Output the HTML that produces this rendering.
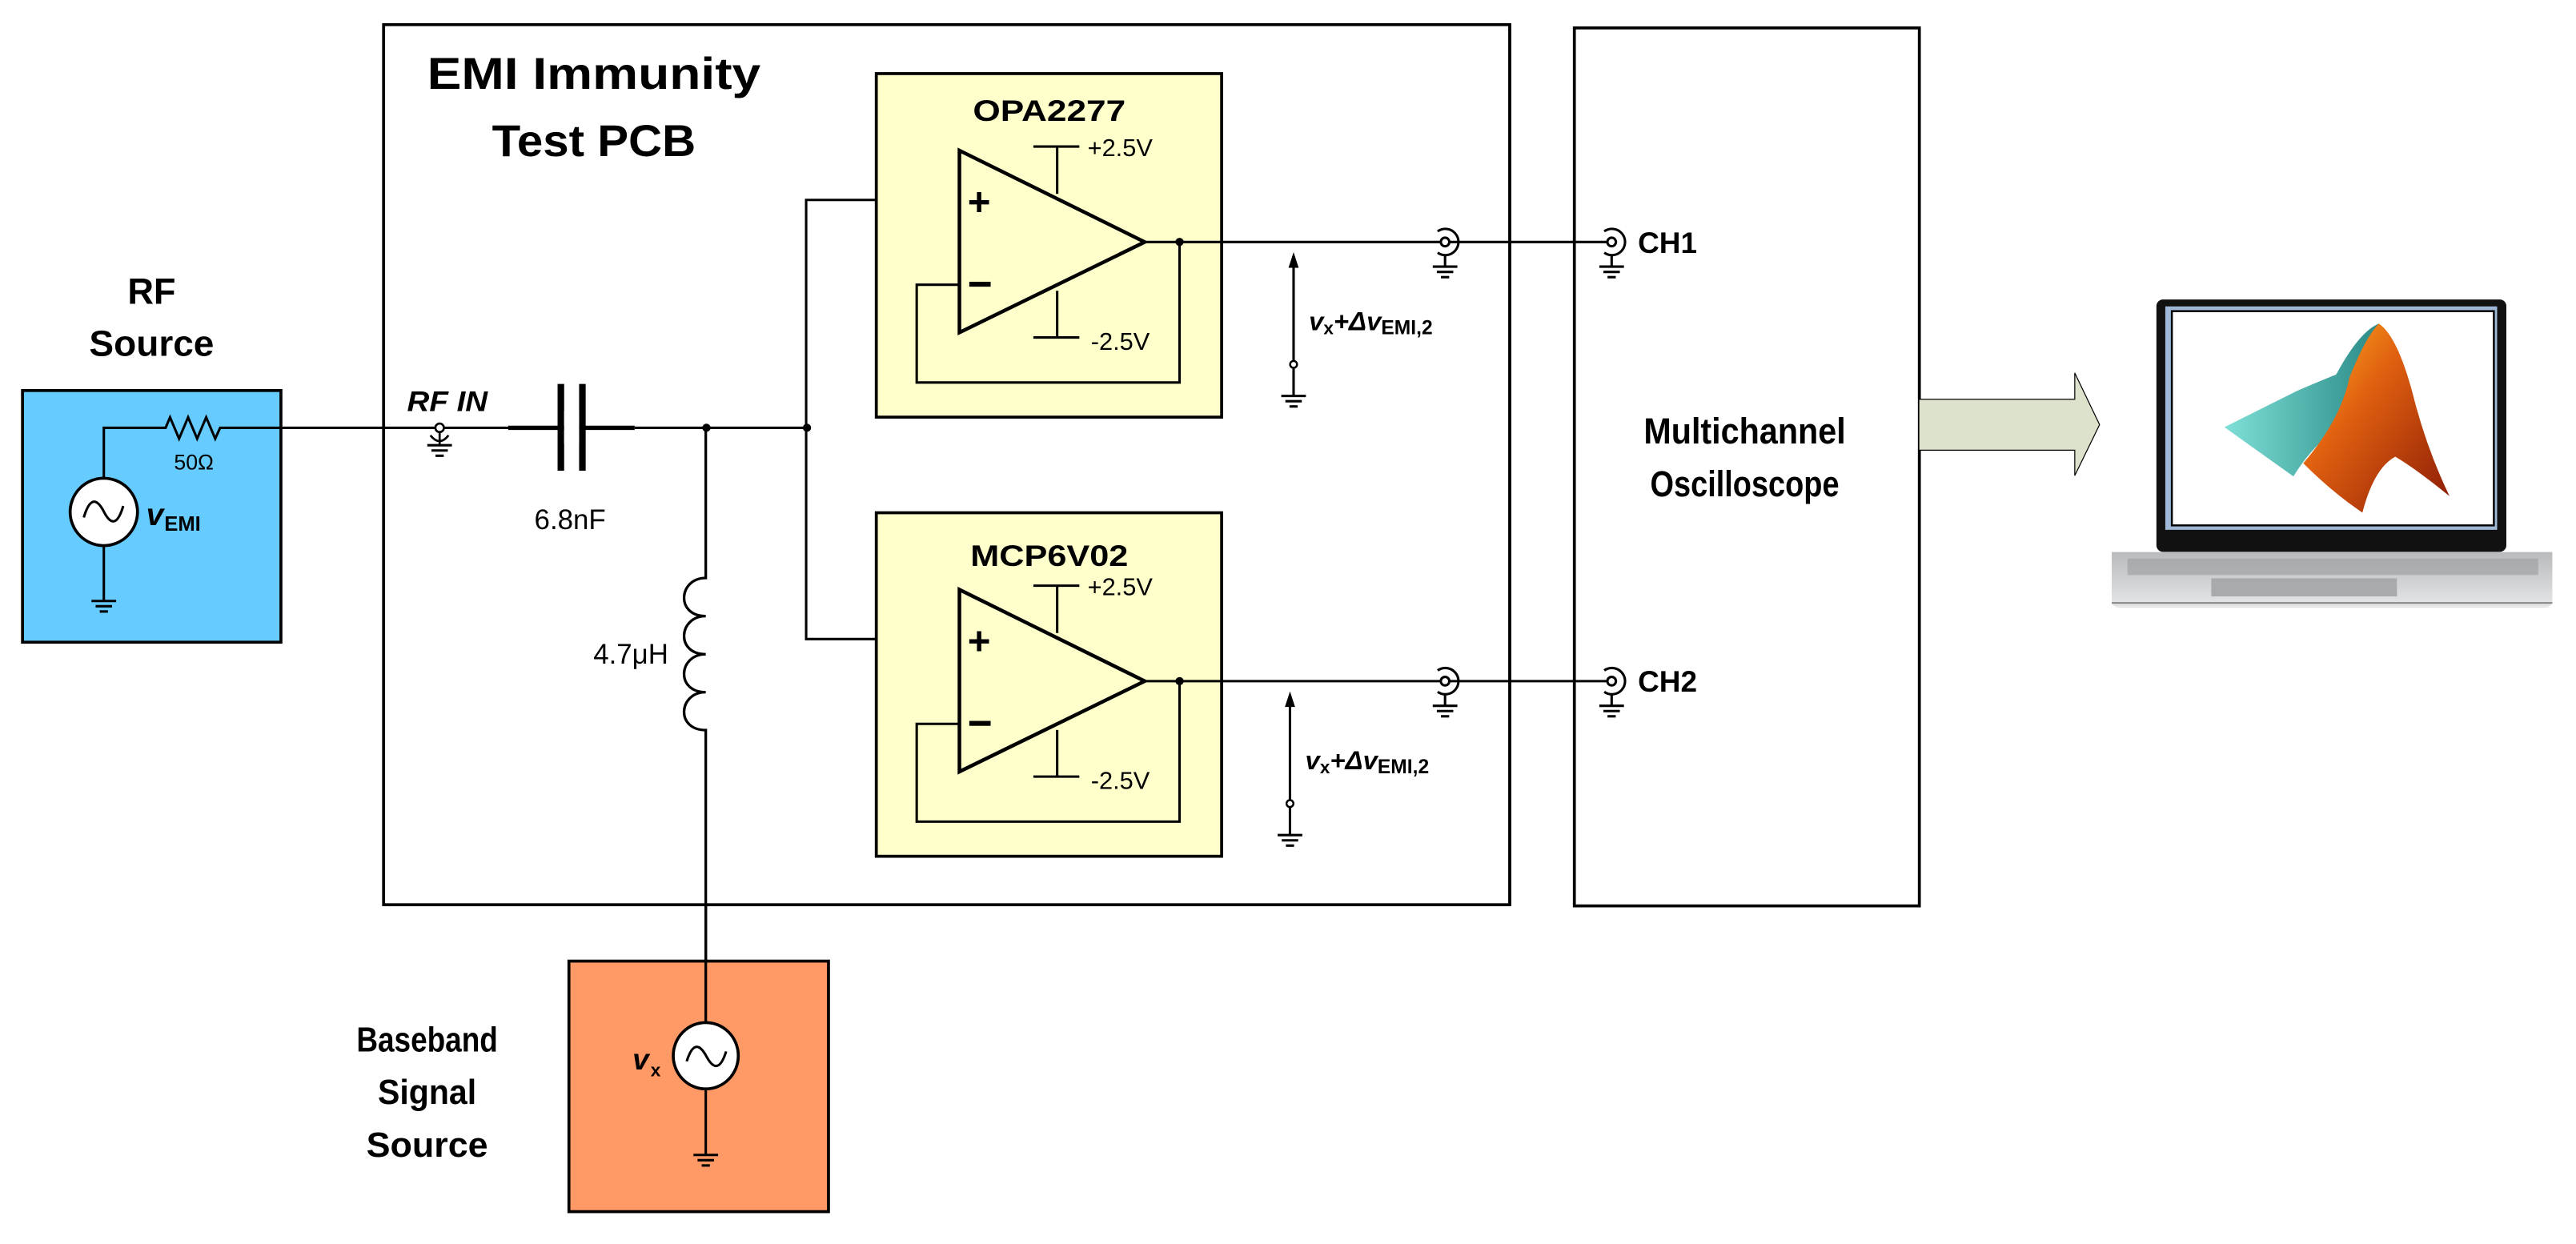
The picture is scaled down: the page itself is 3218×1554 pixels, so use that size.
<!DOCTYPE html>
<html><head><meta charset="utf-8"><style>
html,body{margin:0;padding:0;background:#fff;}
svg{display:block;}
text{font-family:"Liberation Sans",sans-serif;fill:#000;}
.b{font-weight:bold;}
</style></head><body>
<svg width="3218" height="1554" viewBox="0 0 1568 757.2" xmlns="http://www.w3.org/2000/svg">
<defs>
<g id="gnd"><line x1="-7.5" y1="0" x2="7.5" y2="0" stroke="#000" stroke-width="1.5"/><line x1="-5" y1="3.2" x2="5" y2="3.2" stroke="#000" stroke-width="1.5"/><line x1="-2.5" y1="6.4" x2="2.5" y2="6.4" stroke="#000" stroke-width="1.5"/></g>
<g id="coax" fill="none" stroke="#000" stroke-width="1.5"><circle cx="0" cy="0" r="2.6" fill="#fff"/><path d="M -4.5 -6.5 A 8 8 0 1 1 -4.5 6.5"/><line x1="0" y1="7.8" x2="0" y2="15"/><use href="#gnd" y="15"/></g>
<linearGradient id="mat" x1="0" y1="0" x2="1" y2="1"><stop offset="0" stop-color="#ffb020"/><stop offset="0.4" stop-color="#e06010"/><stop offset="1" stop-color="#8a1a05"/></linearGradient>
<linearGradient id="teal" x1="0" y1="0" x2="1" y2="0"><stop offset="0" stop-color="#7fe0d8"/><stop offset="1" stop-color="#2a8a86"/></linearGradient>
<linearGradient id="base" x1="0" y1="0" x2="0" y2="1"><stop offset="0" stop-color="#b8babc"/><stop offset="1" stop-color="#e6e7e8"/></linearGradient>
</defs>

<rect x="233.5" y="15" width="685.5" height="535.7" fill="#fff" stroke="#000" stroke-width="1.8"/>
<text class="b" x="361.5" y="54" font-size="27" text-anchor="middle" textLength="203" lengthAdjust="spacingAndGlyphs">EMI Immunity</text>
<text class="b" x="361.5" y="95" font-size="27" text-anchor="middle" textLength="124" lengthAdjust="spacingAndGlyphs">Test PCB</text>

<text class="b" x="92.3" y="185" font-size="22" text-anchor="middle">RF</text>
<text class="b" x="92.3" y="216.5" font-size="22" text-anchor="middle" textLength="76" lengthAdjust="spacingAndGlyphs">Source</text>
<rect x="13.7" y="237.7" width="157.3" height="153.2" fill="#66CCFF" stroke="#000" stroke-width="1.8"/>
<polyline points="63.2,291 63.2,260.4 100.8,260.4 103.5,254 109,267 114.5,254 120,267 125.5,254 131,267 134,260.4 267.6,260.4" fill="none" stroke="#000" stroke-width="1.5"/>
<ellipse cx="63.2" cy="311.6" rx="20.5" ry="20.5" fill="#fff" stroke="#000" stroke-width="1.8"/>
<path d="M 51 315 Q 56 298 63 311 Q 70 325 75 308" fill="none" stroke="#000" stroke-width="1.5"/>
<line x1="63.2" y1="332" x2="63.2" y2="365.8" stroke="#000" stroke-width="1.5"/>
<use href="#gnd" x="63.2" y="365.8"/>
<text x="118" y="285.7" font-size="13" text-anchor="middle">50Ω</text>
<text class="b" x="89" y="319.6" font-size="19" font-style="italic">v</text><text class="b" x="100" y="323" font-size="12.5">EMI</text>

<text class="b" x="247.8" y="250.3" font-size="17" font-style="italic" textLength="49" lengthAdjust="spacingAndGlyphs">RF IN</text>
<circle cx="267.6" cy="260.4" r="2.6" fill="#fff" stroke="#000" stroke-width="1.3"/>
<path d="M 262 265 Q 267.6 272 273 265" fill="none" stroke="#000" stroke-width="1.3"/>
<line x1="267.6" y1="263" x2="267.6" y2="271" stroke="#000" stroke-width="1.3"/>
<use href="#gnd" x="267.6" y="271"/>

<line x1="270.2" y1="260.4" x2="309.4" y2="260.4" stroke="#000" stroke-width="1.5"/>
<line x1="309.4" y1="260.4" x2="386.3" y2="260.4" stroke="#000" stroke-width="2.6"/>
<rect x="339.4" y="233.7" width="4" height="52.8" fill="#000"/>
<rect x="352.5" y="233.7" width="4" height="52.8" fill="#000"/>
<rect x="343.4" y="250" width="9.1" height="20" fill="#fff"/>
<text x="347" y="322" font-size="17" text-anchor="middle">6.8nF</text>
<line x1="386.3" y1="260.4" x2="491.2" y2="260.4" stroke="#000" stroke-width="1.5"/>
<circle cx="430" cy="260.4" r="2.5" fill="#000"/>
<circle cx="491.2" cy="260.4" r="2.5" fill="#000"/>

<path d="M 429.6 260.4 L 429.6 351.8 C 413 351.8 411 375 429.6 375 C 413 375 411 398.2 429.6 398.2 C 413 398.2 411 421.3 429.6 421.3 C 413 421.3 411 444.4 429.6 444.4 L 429.6 622.4" fill="none" stroke="#000" stroke-width="1.6"/>
<text x="384" y="404" font-size="17" text-anchor="middle">4.7μH</text>

<polyline points="584,121.7 490.7,121.7 490.7,389 584,389" fill="none" stroke="#000" stroke-width="1.5"/>

<g id="opa">
<rect x="533.4" y="44.8" width="210.2" height="209.1" fill="#FFFFCC" stroke="#000" stroke-width="1.8"/>
<polyline points="584,173.3 558,173.3 558,232.8 718,232.8 718,147.3" fill="none" stroke="#000" stroke-width="1.5"/>
<line x1="643.5" y1="89.2" x2="643.5" y2="118" stroke="#000" stroke-width="1.5"/>
<line x1="629" y1="89.2" x2="657" y2="89.2" stroke="#000" stroke-width="1.5"/>
<line x1="643.5" y1="177" x2="643.5" y2="205.4" stroke="#000" stroke-width="1.5"/>
<line x1="629" y1="205.4" x2="657" y2="205.4" stroke="#000" stroke-width="1.5"/>
<polygon points="584,91.6 696.8,147.3 584,202.4" fill="none" stroke="#000" stroke-width="2.2"/>
<text class="b" x="589" y="131" font-size="24">+</text>
<rect x="590" y="171.5" width="13" height="3" fill="#000"/>
<line x1="696.8" y1="147.3" x2="879.6" y2="147.3" stroke="#000" stroke-width="1.5"/>
<circle cx="718" cy="147.3" r="2.5" fill="#000"/>
<text x="662" y="95" font-size="15">+2.5V</text>
<text x="664" y="213" font-size="15">-2.5V</text>
</g>
<use href="#opa" y="267.3"/>
<text class="b" x="638.7" y="73.5" font-size="18" text-anchor="middle" textLength="93" lengthAdjust="spacingAndGlyphs">OPA2277</text>
<text class="b" x="638.7" y="344.6" font-size="18" text-anchor="middle" textLength="96" lengthAdjust="spacingAndGlyphs">MCP6V02</text>

<g id="meas">
<line x1="787.4" y1="162" x2="787.4" y2="219.8" stroke="#000" stroke-width="1.5"/>
<polygon points="787.4,153.5 784.3,163 790.5,163" fill="#000"/>
<circle cx="787.4" cy="221.8" r="2.1" fill="#fff" stroke="#000" stroke-width="1.2"/>
<line x1="787.4" y1="224" x2="787.4" y2="241" stroke="#000" stroke-width="1.5"/>
<use href="#gnd" x="787.4" y="241"/>
<text class="b" x="796.7" y="201" font-size="16"><tspan font-style="italic">v</tspan><tspan font-size="11" dy="2.5">x</tspan><tspan font-style="italic" dy="-2.5">+Δv</tspan><tspan font-size="12" dy="2.5">EMI,2</tspan></text>
</g>
<use href="#meas" x="-2.2" y="267.3"/>

<line x1="879.6" y1="147.3" x2="981" y2="147.3" stroke="#000" stroke-width="1.5"/>
<line x1="879.6" y1="414.6" x2="981" y2="414.6" stroke="#000" stroke-width="1.5"/>
<use href="#coax" x="879.6" y="147.3"/>
<use href="#coax" x="879.6" y="414.6"/>
<line x1="919" y1="15" x2="919" y2="550.7" stroke="#000" stroke-width="1.8"/>

<rect x="958.3" y="17" width="210" height="534.4" fill="none" stroke="#000" stroke-width="1.8"/>
<use href="#coax" x="981" y="147.3"/>
<use href="#coax" x="981" y="414.6"/>
<text class="b" x="997" y="154" font-size="18">CH1</text>
<text class="b" x="997" y="421" font-size="18">CH2</text>
<text class="b" x="1062" y="270" font-size="22" text-anchor="middle" textLength="123" lengthAdjust="spacingAndGlyphs">Multichannel</text>
<text class="b" x="1062" y="302" font-size="22" text-anchor="middle" textLength="115" lengthAdjust="spacingAndGlyphs">Oscilloscope</text>

<polygon points="1168,243 1262.9,243 1262.9,227 1278,258.5 1262.9,289.5 1262.9,274 1168,274" fill="#DDE2CC" stroke="#000" stroke-width="0.6"/>

<rect x="1312.6" y="182.3" width="213" height="153.6" rx="4" fill="#111"/>
<rect x="1318" y="186.5" width="202" height="136" fill="#9fb8d8"/>
<rect x="1322" y="189.4" width="196" height="130.4" fill="#fff" stroke="#000" stroke-width="1.2"/>
<path d="M 1354 260 L 1398 238 Q 1412 232 1422 228 Q 1436 202 1448 197 L 1420 262 Q 1405 275 1396 290 Z" fill="url(#teal)"/>
<path d="M 1448 197 Q 1460 205 1470 245 Q 1478 275 1491 302 Q 1470 285 1458 278 Q 1445 285 1438 312 Q 1420 300 1402 282 Q 1425 255 1430 230 Q 1440 205 1448 197 Z" fill="url(#mat)"/>
<path d="M 1285.4 336 L 1553.6 336 L 1553.6 366 Q 1553 370 1548 370 L 1291 370 Q 1286 370 1285.4 366 Z" fill="url(#base)"/>
<rect x="1295" y="340" width="250" height="10" fill="#9a9c9f" opacity="0.6"/>
<rect x="1346" y="352" width="113" height="11" fill="#a8aaad"/>
<line x1="1285.4" y1="367" x2="1553.6" y2="367" stroke="#888" stroke-width="1"/>

<rect x="346.3" y="585" width="158" height="152.5" fill="#FF9966" stroke="#000" stroke-width="1.8"/>
<line x1="429.6" y1="550" x2="429.6" y2="622.4" stroke="#000" stroke-width="1.6"/>
<ellipse cx="429.6" cy="642.6" rx="19.8" ry="20.2" fill="#fff" stroke="#000" stroke-width="1.8"/>
<path d="M 418 646 Q 423 630 430 643 Q 437 656 442 640" fill="none" stroke="#000" stroke-width="1.5"/>
<line x1="429.6" y1="663" x2="429.6" y2="703" stroke="#000" stroke-width="1.5"/>
<use href="#gnd" x="429.6" y="703"/>
<text class="b" x="385" y="651" font-size="18" font-style="italic">v</text><text class="b" x="396" y="655" font-size="11">x</text>
<text class="b" x="260" y="640" font-size="21" text-anchor="middle" textLength="86" lengthAdjust="spacingAndGlyphs">Baseband</text>
<text class="b" x="260" y="672" font-size="21" text-anchor="middle" textLength="60" lengthAdjust="spacingAndGlyphs">Signal</text>
<text class="b" x="260" y="704" font-size="21" text-anchor="middle" textLength="74" lengthAdjust="spacingAndGlyphs">Source</text>
</svg>
</body></html>
